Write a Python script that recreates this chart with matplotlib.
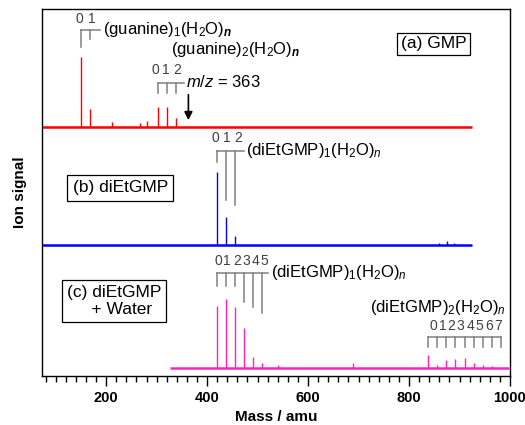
import matplotlib
matplotlib.use("Agg")
import matplotlib.pyplot as plt
from matplotlib.ticker import MultipleLocator

plt.rcParams["font.family"] = ["Liberation Sans", "DejaVu Sans"]
plt.rcParams["mathtext.fontset"] = "custom"
plt.rcParams["mathtext.rm"] = "Liberation Sans"
plt.rcParams["mathtext.it"] = "Liberation Sans:italic"
plt.rcParams["mathtext.bf"] = "Liberation Sans:italic:bold"

# --- spectra (peak masses in amu, heights in arbitrary units) ---
gmp_range = (73, 924)
gmp_mass = [151, 169, 212, 267, 280, 302, 320, 338]
gmp_height = [70, 18, 5, 4, 6, 20, 20, 9]

diet_range = (73, 924)
diet_mass = [419, 437, 455, 860, 875, 890]
diet_height = [73, 28, 9, 2, 4, 2]

water_range = (327, 998)
water_mass = [419, 437, 455, 473, 491, 509, 541, 690,
              838, 856, 874, 892, 910, 928, 946, 964, 982]
water_height = [62, 69, 61, 40, 11, 5, 3, 5,
                13, 3, 8, 9, 10, 5, 3, 2, 1]

# vertical offsets of the three traces
offsets = {"gmp": 249, "diet": 131, "water": 8}

COMB = "#808080"
LABEL = "#404040"


def trace(ax, rng, mass, height, base, color):
    ax.plot(rng, [base, base], color=color, lw=1.8, solid_capstyle="butt")
    ax.vlines(mass, base, [base + h for h in height], color=color, lw=1.0)


def comb(ax, teeth, bottoms, y, x_end, lab_x, lab_y):
    ax.plot([teeth[0], x_end], [y, y], color=COMB, lw=1.1)
    for t, b in zip(teeth, bottoms):
        ax.plot([t, t], [y, b], color=COMB, lw=1.1)
    # number of waters above each tooth
    for n, x in enumerate(lab_x):
        ax.text(x, lab_y, str(n), ha="center", va="center", fontsize=10, color=LABEL)


fig = plt.figure(figsize=(5.25, 4.25), dpi=100)
ax = fig.add_axes([0.080, 0.1153, 0.8914, 0.8637])

trace(ax, gmp_range, gmp_mass, gmp_height, offsets["gmp"], "#ff0000")
trace(ax, diet_range, diet_mass, diet_height, offsets["diet"], "#0000ff")
trace(ax, water_range, water_mass, water_height, offsets["water"], "#ff22cc")

# (a) GMP annotations
comb(ax, [151, 169], [329, 337], 346, 187, [148, 172], 357)
ax.text(193, 346, r"(guanine)$_1$(H$_2$O)$_\mathbf{n}$", fontsize=12, va="center")
ax.text(328, 326, r"(guanine)$_2$(H$_2$O)$_\mathbf{n}$", fontsize=12, va="center")
comb(ax, [302, 320, 338], [283, 283, 283], 293, 355, [298, 318, 340], 306)
ax.text(359, 294, r"$m/z$ = 363", fontsize=12, va="center")
ax.annotate("", xy=(363, 253), xytext=(363, 284),
            arrowprops=dict(arrowstyle="-|>", color="black", lw=1.2, mutation_scale=12))
ax.text(849, 332, "(a) GMP", fontsize=12.5, ha="center", va="center",
        bbox=dict(boxstyle="square,pad=0.2", fc="white", ec="black", lw=0.9))

# (b) diEtGMP annotations
comb(ax, [419, 437, 455], [214, 176, 171], 225, 474, [417, 440, 462], 238)
ax.text(477, 225, r"(diEtGMP)$_1$(H$_2$O)$_n$", fontsize=12, va="center")
ax.text(228, 188, "(b) diEtGMP", fontsize=12.5, ha="center", va="center",
        bbox=dict(boxstyle="square,pad=0.3", fc="white", ec="black", lw=0.9))

# (c) diEtGMP + water annotations
comb(ax, [419, 437, 455, 473, 491, 509], [90, 90, 90, 74, 69, 63], 103, 521,
     [422, 440, 459, 477, 496, 514], 115)
ax.text(527, 103, r"(diEtGMP)$_1$(H$_2$O)$_n$", fontsize=12, va="center")
comb(ax, [838, 856, 874, 892, 910, 928, 946, 964, 982], [29] * 9, 39, 982,
     [848, 866, 884, 902, 921, 939, 958, 976], 50)
ax.text(992, 68, r"(diEtGMP)$_2$(H$_2$O)$_n$", fontsize=12, ha="right", va="center")
ax.text(122, 75, "(c) diEtGMP\n     + Water", fontsize=12.5, ha="left", va="center",
        linespacing=1.1,
        bbox=dict(boxstyle="square,pad=0.3", fc="white", ec="black", lw=0.9))

ax.set_xlim(73, 1000)
ax.set_ylim(0, 367)
ax.set_yticks([])
ax.xaxis.set_major_locator(MultipleLocator(200))
ax.xaxis.set_minor_locator(MultipleLocator(20))
ax.tick_params(axis="x", which="major", direction="out", length=7, width=1,
               labelsize=10.5)
ax.tick_params(axis="x", which="minor", direction="out", length=4, width=1)
for lab in ax.get_xticklabels():
    lab.set_fontweight("bold")
for sp in ax.spines.values():
    sp.set_linewidth(1.0)

ax.set_xlabel("Mass / amu", fontsize=11, fontweight="bold", labelpad=4)
ax.set_ylabel("Ion signal", fontsize=11, fontweight="bold", labelpad=11)

fig.savefig("out.png", dpi=100)
